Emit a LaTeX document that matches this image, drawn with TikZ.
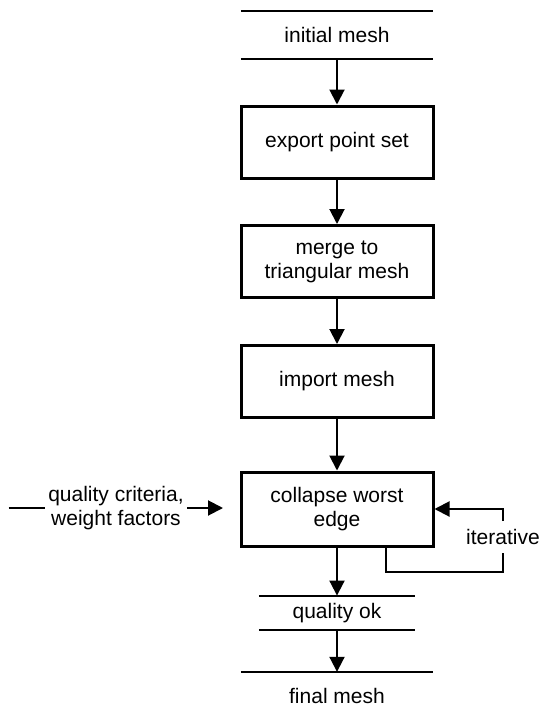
\documentclass[tikz,border=0pt]{standalone}
\usepackage{fontspec}
\setmainfont{Liberation Sans}
\usetikzlibrary{arrows.meta}

\begin{document}
\begin{tikzpicture}[x=1pt,y=-1pt,>={Triangle[length=15pt,width=15pt]},
    box/.style={draw,line width=3pt,minimum width=192pt,minimum height=72pt,align=center},
    store/.style={minimum width=192pt,minimum height=48pt,align=center},
    flow/.style={->,line width=2pt},
    bar/.style={line width=2pt}]
    \useasboundingbox (0,0) rectangle (541,720);
    \begin{scope}[font=\fontsize{21}{24}\selectfont]

    \node [store] (init) at (337,35) {initial mesh};
    \node [box] (export) at (337,142) {export point set};
    \node [box] (merge) at (337,261.5) {merge to\\triangular mesh};
    \node [box] (import) at (337,381.5) {import mesh};
    \node [box,minimum height=74pt] (collapse) at (337,509) {collapse worst\\edge};
    \node [store,minimum width=156pt,minimum height=34.5pt] (ok) at (337,613) {quality ok};
    \node [store] (final) at (337,696) {final mesh};
    \node [align=center,inner sep=3.5pt] (crit) at (116,508) {quality criteria,\\weight factors};
    \node [inner xsep=2pt,inner ysep=8pt] (iter) at (503,537) {iterative};
    \coordinate (critin) at (8.6,508);
    \coordinate (crittip) at (223,508);

    \foreach \s in {init,ok}{%
        \draw [bar] (\s.north west) -- (\s.north east);
        \draw [bar] (\s.south west) -- (\s.south east);}
    \draw [bar] (final.north west) -- (final.north east);

    \draw [flow] (init) -- (export);
    \draw [flow] (export) -- (merge);
    \draw [flow] (merge) -- (import);
    \draw [flow] (import) -- (collapse);
    \draw [flow] (collapse) -- (ok);
    \draw [flow] (ok) -- (final);

    \draw [bar] (critin) -- (crit.west);
    \draw [flow] (crit.east) -- (crittip);

    \draw [bar] ([xshift=-49pt]collapse.south east) -- ++(0,24) -| (iter.south);
    \draw [flow] (iter.north) |- (collapse.east);
    \end{scope}
\end{tikzpicture}
\end{document}
